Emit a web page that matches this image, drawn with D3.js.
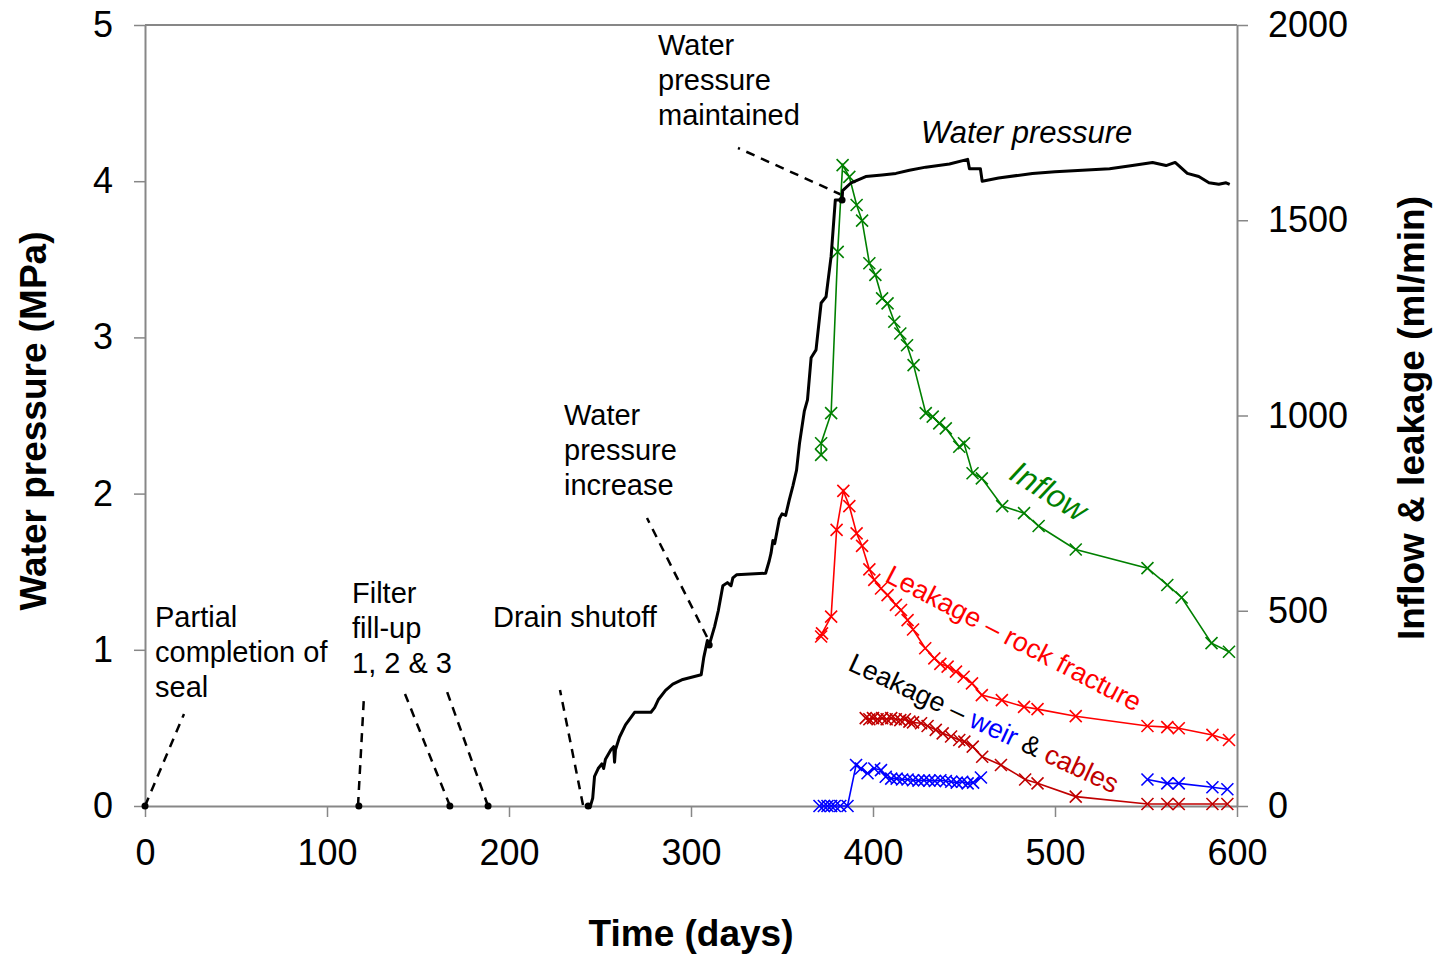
<!DOCTYPE html>
<html>
<head>
<meta charset="utf-8">
<script src="https://cdn.jsdelivr.net/npm/d3@7"></script>
<style>
  body { margin: 0; background: #fff; }
  svg { display: block; font-family: "Liberation Sans", Arial, sans-serif; }
</style>
</head>
<body>
<svg id="chart" width="1438" height="954"></svg>
<script>
// ---- data ----
const xTicks = [0, 100, 200, 300, 400, 500, 600];
const pressureTicks = [0, 1, 2, 3, 4, 5];
const flowTicks = [0, 500, 1000, 1500, 2000];

// water pressure (MPa) vs time (days)
const pressureDays = [243, 244.5, 246, 247, 249, 251, 252, 253, 256, 257.5, 258, 258.5, 260.7, 264, 269, 278, 280, 282, 286, 290, 295.5, 305.6, 307, 308.3, 309, 310, 313, 315, 317.5, 320, 322, 323, 325, 341, 343, 344, 345, 346, 348.6, 350, 352, 354, 356, 358, 359.6, 362.3, 364, 366, 368.7, 371.5, 374.2, 377, 379.3, 383, 383.3, 388, 396, 405, 412.6, 420, 429, 442, 452, 453, 459, 460, 469, 487.6, 500, 515, 530, 542.5, 553.6, 561, 566, 568, 572.7, 579, 584.6, 590, 594, 596];
const pressureMPa = [0, -0.01, 0.05, 0.19, 0.24, 0.27, 0.24, 0.30, 0.36, 0.38, 0.28, 0.36, 0.44, 0.52, 0.60, 0.60, 0.63, 0.68, 0.74, 0.78, 0.81, 0.84, 0.95, 1.02, 1.06, 1.03, 1.15, 1.25, 1.41, 1.43, 1.41, 1.46, 1.48, 1.49, 1.57, 1.62, 1.70, 1.68, 1.84, 1.87, 1.86, 1.96, 2.05, 2.15, 2.32, 2.53, 2.60, 2.87, 2.92, 3.22, 3.26, 3.52, 3.88, 3.88, 3.94, 3.99, 4.03, 4.04, 4.05, 4.07, 4.09, 4.11, 4.14, 4.08, 4.08, 4.00, 4.02, 4.05, 4.06, 4.07, 4.08, 4.10, 4.12, 4.10, 4.12, 4.10, 4.05, 4.03, 3.99, 3.98, 3.99, 3.98];

// event markers on the pressure curve
const eventDays = [0, 117.5, 167.5, 188.5, 243.5, 310, 383];
const eventMPa = [0, 0, 0, 0, 0, 1.03, 3.88];

// inflow (ml/min)
const inflowDays = [371.5, 371.5, 377, 380.6, 383.3, 387, 391, 394, 398, 401.3, 405, 408, 411.7, 415, 418.7, 422.3, 429, 432.8, 436.4, 440, 447.4, 450, 454.7, 459.8, 471, 483, 491, 511.4, 550.8, 561.7, 569.6, 586, 595.6];
const inflowValues = [899, 929, 1006, 1419, 1641, 1611, 1539, 1499, 1390, 1360, 1300, 1287, 1240, 1210, 1180, 1129, 1006, 997, 980, 967, 920, 929, 852, 839, 768, 750, 717, 657, 609, 566, 534, 417, 395];

// leakage - rock fracture (ml/min)
const rockDays = [371.5, 372, 377, 380, 383.7, 387, 391, 394, 398, 400.7, 404.4, 408, 412.6, 415.4, 419, 422, 428.7, 433.7, 437, 441, 445.6, 449.8, 454.4, 459.8, 470.8, 483, 490.4, 511.4, 550.8, 561.7, 568, 586.5, 595.6];
const rockValues = [434, 442, 485, 707, 807, 768, 698, 666, 606, 579, 557, 540, 515, 502, 476, 452, 404, 378, 364, 357, 344, 331, 314, 284, 271, 254, 248, 230, 205, 202, 199, 182, 169];

// leakage - cables (ml/min)
const cableDays = [396, 398, 400, 402.5, 405, 407.5, 410, 412.5, 415, 417.5, 420, 422, 426.4, 430, 434.5, 438.3, 442.9, 447.4, 450.2, 454.8, 460, 470.3, 483.6, 490.4, 511.4, 550.8, 561.7, 568, 586.5, 594.7];
const cableValues = [225, 222, 225, 222, 225, 222, 225, 222, 220, 222, 216, 214, 212, 205, 195, 186, 178, 169, 165, 152, 126, 105, 68, 58, 24, 5, 5, 5, 5, 5];

// leakage - weir (ml/min), null = gap in record
const weirDays = [370.6, 373, 375, 377, 379, 382, 386, 390.7, 393.4, 397, 400.7, 404.4, 407, 410, 413, 416, 419, 422, 425, 428, 431, 434, 437, 440, 443, 446, 449, 452, 455, 459.3, 500, 550.8, 561.7, 568, 586.5, 594.7];
const weirValues = [0, 0, 0, 0, 0, 0, 0, 105, 96, 84, 96, 92, 75, 70, 70, 68, 68, 66, 65, 66, 65, 64, 66, 64, 62, 60, 62, 58, 60, 73, null, 68, 58, 58, 48, 43];

// ---- drawing ----
const svg = d3.select("#chart");
const axisColor = "#878787";

const x = d3.scaleLinear().domain([0, 600]).range([145, 1237]);
const yP = d3.scaleLinear().domain([0, 5]).range([806, 25]);
const yF = d3.scaleLinear().domain([0, 2000]).range([806, 25]);

// top frame line
svg.append("line")
  .attr("x1", x(0)).attr("x2", x(600))
  .attr("y1", yP(5)).attr("y2", yP(5))
  .attr("stroke", axisColor).attr("stroke-width", 2);

const styleAxis = (g) => {
  g.select(".domain").attr("stroke", axisColor).attr("stroke-width", 2);
  g.selectAll(".tick line").attr("stroke", axisColor).attr("stroke-width", 1.5);
  g.selectAll(".tick text").attr("fill", "#000").attr("font-size", 36)
    .attr("font-family", "'Liberation Sans', Arial, sans-serif");
};
const fmt = d3.format("d");

svg.append("g")
  .attr("transform", `translate(${x(0)},0)`)
  .call(d3.axisLeft(yP).tickValues(pressureTicks).tickFormat(fmt).tickSize(11).tickSizeOuter(0).tickPadding(21))
  .call(styleAxis);

svg.append("g")
  .attr("transform", `translate(${x(600)},0)`)
  .call(d3.axisRight(yF).tickValues(flowTicks).tickFormat(fmt).tickSize(11).tickSizeOuter(0).tickPadding(20))
  .call(styleAxis);

svg.append("g")
  .attr("transform", `translate(0,${yP(0)})`)
  .call(d3.axisBottom(x).tickValues(xTicks).tickFormat(fmt).tickSize(11).tickSizeOuter(0).tickPadding(22))
  .call(styleAxis);

// axis titles
svg.append("text")
  .attr("transform", `translate(33,421) rotate(-90)`)
  .attr("text-anchor", "middle").attr("dy", "0.35em")
  .attr("font-size", 37).attr("font-weight", "bold")
  .text("Water pressure (MPa)");

svg.append("text")
  .attr("transform", `translate(1411,418) rotate(-90)`)
  .attr("text-anchor", "middle").attr("dy", "0.35em")
  .attr("font-size", 37).attr("font-weight", "bold")
  .text("Inflow & leakage (ml/min)");

svg.append("text")
  .attr("x", 691).attr("y", 946)
  .attr("text-anchor", "middle")
  .attr("font-size", 37).attr("font-weight", "bold")
  .text("Time (days)");

// dashed leader lines for annotations
const leaders = [
  [[145, 806], [184, 714]],
  [[358, 806], [364, 696]],
  [[450, 806], [405, 694]],
  [[488, 806], [445, 686]],
  [[583, 805], [560, 690]],
  [[707, 637], [647, 518]],
  [[842, 195], [738, 148]]
];
svg.append("g").selectAll("line")
  .data(leaders)
  .join("line")
  .attr("x1", d => d[0][0]).attr("y1", d => d[0][1])
  .attr("x2", d => d[1][0]).attr("y2", d => d[1][1])
  .attr("stroke", "#000").attr("stroke-width", 2.5)
  .attr("stroke-dasharray", "9 7");

// series helper
const xMark = "M-6,-6L6,6M-6,6L6,-6";
function drawSeries(days, values, color, width) {
  const pts = days.map((d, i) => ({ d, v: values[i] }));
  const line = d3.line()
    .defined(p => p.v !== null)
    .x(p => x(p.d)).y(p => yF(p.v));
  svg.append("path").datum(pts)
    .attr("fill", "none").attr("stroke", color).attr("stroke-width", width)
    .attr("d", line);
  svg.append("g").selectAll("path")
    .data(pts.filter(p => p.v !== null))
    .join("path")
    .attr("transform", p => `translate(${x(p.d)},${yF(p.v)})`)
    .attr("d", xMark)
    .attr("fill", "none").attr("stroke", color).attr("stroke-width", 1.6);
}

drawSeries(weirDays, weirValues, "#0000ff", 1.6);
drawSeries(cableDays, cableValues, "#c00000", 1.6);
drawSeries(rockDays, rockValues, "#ff0000", 1.6);
drawSeries(inflowDays, inflowValues, "#008000", 1.6);

// water pressure curve
const pressurePts = pressureDays.map((d, i) => ({ d, p: pressureMPa[i] }));
svg.append("path").datum(pressurePts)
  .attr("fill", "none").attr("stroke", "#000").attr("stroke-width", 3)
  .attr("stroke-linejoin", "round")
  .attr("d", d3.line().x(p => x(p.d)).y(p => yP(p.p)));

svg.append("g").selectAll("circle")
  .data(eventDays.map((d, i) => ({ d, p: eventMPa[i] })))
  .join("circle")
  .attr("cx", p => x(p.d)).attr("cy", p => yP(p.p))
  .attr("r", 3.5).attr("fill", "#000");

// annotations
const notes = [
  { x: 155, y: 627, lines: ["Partial", "completion of", "seal"] },
  { x: 352, y: 603, lines: ["Filter", "fill-up", "1, 2 & 3"] },
  { x: 493, y: 627, lines: ["Drain shutoff"] },
  { x: 564, y: 425, lines: ["Water", "pressure", "increase"] },
  { x: 658, y: 55, lines: ["Water", "pressure", "maintained"] }
];
notes.forEach(n => {
  const t = svg.append("text").attr("font-size", 29).attr("fill", "#000");
  n.lines.forEach((s, i) => {
    t.append("tspan").attr("x", n.x).attr("y", n.y + i * 35).text(s);
  });
});

svg.append("text")
  .attr("x", 921).attr("y", 143)
  .attr("font-size", 31).attr("font-style", "italic")
  .text("Water pressure");

svg.append("text")
  .attr("transform", "translate(1049,491) rotate(32)")
  .attr("text-anchor", "middle").attr("dy", "0.35em")
  .attr("font-size", 32).attr("font-style", "italic").attr("fill", "#008000")
  .text("Inflow");

svg.append("text")
  .attr("transform", "translate(1014,638) rotate(27.5)")
  .attr("text-anchor", "middle").attr("dy", "0.35em")
  .attr("font-size", 27).attr("fill", "#ff0000")
  .text("Leakage \u2013 rock fracture");

const wc = svg.append("text")
  .attr("transform", "translate(984,723) rotate(25)")
  .attr("text-anchor", "middle").attr("dy", "0.35em")
  .attr("font-size", 27);
wc.append("tspan").attr("fill", "#000").text("Leakage \u2013 ");
wc.append("tspan").attr("fill", "#0000ff").text("weir");
wc.append("tspan").attr("fill", "#000").text(" & ");
wc.append("tspan").attr("fill", "#c00000").text("cables");
</script>
</body>
</html>
